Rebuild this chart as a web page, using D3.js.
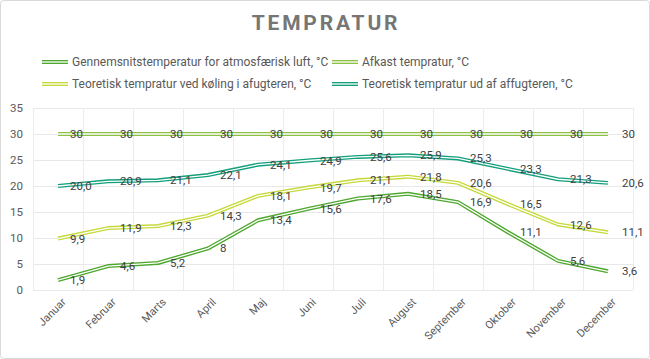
<!DOCTYPE html>
<html><head><meta charset="utf-8">
<script src="https://cdn.jsdelivr.net/npm/d3@7"></script>
<style>body{margin:0;background:#fff;} svg{display:block;}</style>
</head><body>
<svg id="c" width="650" height="359"></svg>
<script>
const months = ["Januar","Februar","Marts","April","Maj","Juni","Juli","August","September","Oktober","November","December"];
const gennemsnit = [1.9,4.6,5.2,8,13.4,15.6,17.6,18.5,16.9,11.1,5.6,3.6];
const afkast = [30,30,30,30,30,30,30,30,30,30,30,30];
const koeling = [9.9,11.9,12.3,14.3,18.1,19.7,21.1,21.8,20.6,16.5,12.6,11.1];
const udAf = [20.0,20.9,21.1,22.1,24.1,24.9,25.6,25.9,25.3,23.3,21.3,20.6];
const yTicks = [0,5,10,15,20,25,30,35];

const series = [
  {name:"Gennemsnitstemperatur for atmosfærisk luft, °C", values:gennemsnit, color:"#4ea72e", dec:false},
  {name:"Afkast tempratur, °C", values:afkast, color:"#8dc145", dec:false},
  {name:"Teoretisk tempratur ved køling i afugteren, °C", values:koeling, color:"#c6d93c", dec:false},
  {name:"Teoretisk tempratur ud af affugteren, °C", values:udAf, color:"#139f7c", dec:true}
];
const drawOrder = [3,2,1,0];

const svg = d3.select("#c");
const font = "Roboto, 'Open Sans', sans-serif";
svg.append("rect").attr("x",0.5).attr("y",0.5).attr("width",649).attr("height",358)
  .attr("rx",3).attr("fill","#fff").attr("stroke","#d9d9d9");

svg.append("text").attr("x",326).attr("y",30).attr("text-anchor","middle")
  .attr("font-family",font).attr("font-weight","bold").attr("font-size",21)
  .attr("letter-spacing","2.8px").attr("fill","#767676").text("TEMPRATUR");

const x = d3.scaleBand().domain(months).range([33,633]);
const y = d3.scaleLinear().domain([0,35]).range([290,108]);

const g = svg.append("g");
// grid
g.selectAll(".hg").data(yTicks).join("line")
  .attr("x1",33).attr("x2",633).attr("y1",d=>y(d)).attr("y2",d=>y(d))
  .attr("stroke","#e8e8e8").attr("stroke-width",1).attr("shape-rendering","crispEdges");
const vb = months.map(m=>x(m)).concat([x.range()[1]]);
g.selectAll(".vg").data(vb).join("line")
  .attr("x1",d=>d).attr("x2",d=>d).attr("y1",y(35)).attr("y2",y(0))
  .attr("stroke","#ececec").attr("stroke-width",1).attr("shape-rendering","crispEdges");

// y axis
const ya = svg.append("g").attr("transform","translate(23,0)")
  .call(d3.axisLeft(y).tickValues(yTicks).tickSize(0).tickPadding(0));
ya.select(".domain").remove();
ya.selectAll("text").attr("font-family",font).attr("font-size",11.5).attr("fill","#595959");

// x axis
const xa = svg.append("g").attr("transform","translate(0,296)")
  .call(d3.axisBottom(x).tickSize(0).tickPadding(0));
xa.select(".domain").remove();
xa.selectAll("text").attr("font-family",font).attr("font-size",11).attr("fill","#595959")
  .attr("text-anchor","end").attr("y",0).attr("dy","0.35em")
  .attr("transform","translate(6,4) rotate(-45)");

// lines
const line = d3.line().x((d,i)=>x(months[i])+x.bandwidth()/2).y(d=>y(d));
drawOrder.forEach(k=>{
  const s = series[k];
  g.append("path").attr("d",line(s.values)).attr("fill","none")
    .attr("stroke",s.color).attr("stroke-width",4).attr("stroke-linejoin","round");
  g.append("path").attr("d",line(s.values)).attr("fill","none")
    .attr("stroke","#fff").attr("stroke-width",1.3).attr("stroke-linejoin","round");
});
// labels
const fmt = (v,dec)=> (dec? v.toFixed(1) : String(v)).replace(".",",");
drawOrder.forEach(k=>{
  const s = series[k];
  g.selectAll(null).data(s.values).join("text")
    .attr("x",(d,i)=>x(months[i])+x.bandwidth()/2+ (i===11?14:12))
    .attr("y",d=>y(d)).attr("dy","0.35em")
    .attr("font-family",font).attr("font-size",11.5).attr("fill","#404040")
    .text(d=>fmt(d,s.dec));
});

// legend
const legPos = [[42,62],[332,62],[42,84],[332,84]];
series.forEach((s,i)=>{
  const [lx,ly]=legPos[i];
  svg.append("line").attr("x1",lx).attr("x2",lx+26).attr("y1",ly).attr("y2",ly)
    .attr("stroke",s.color).attr("stroke-width",4);
  svg.append("line").attr("x1",lx).attr("x2",lx+26).attr("y1",ly).attr("y2",ly)
    .attr("stroke","#fff").attr("stroke-width",1.3);
  svg.append("text").attr("x",lx+30).attr("y",ly).attr("dy","0.35em")
    .attr("font-family",font).attr("font-size",12).attr("fill","#595959").text(s.name);
});
</script>
</body></html>
